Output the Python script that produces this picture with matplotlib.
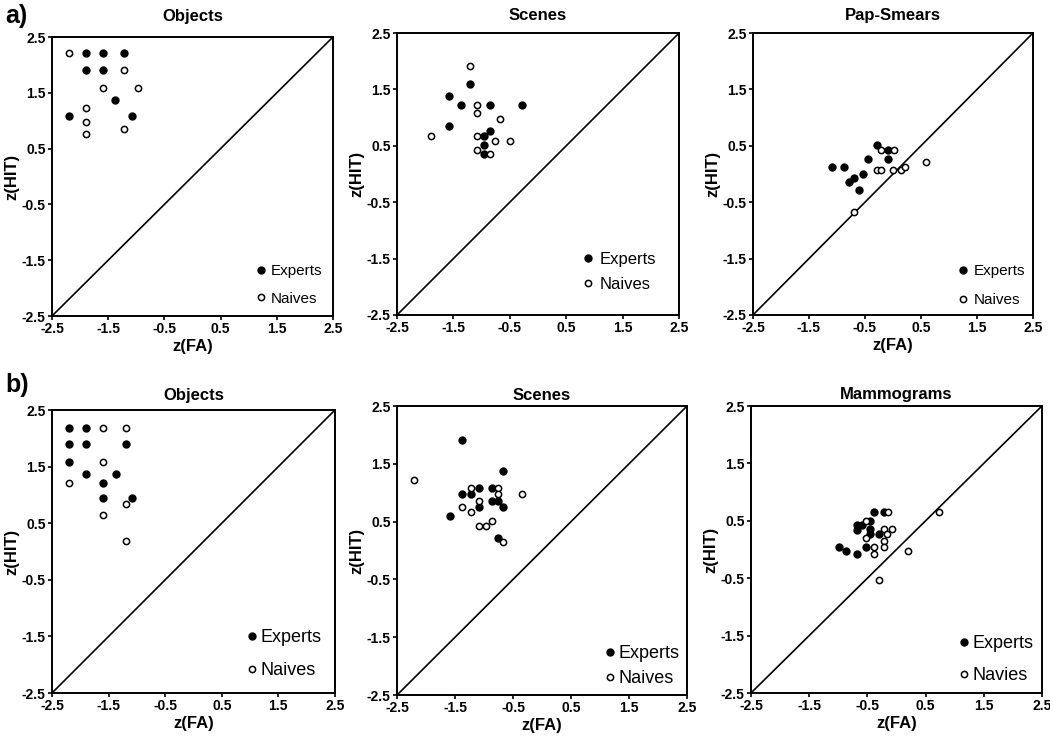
import matplotlib
matplotlib.use('Agg')
import matplotlib.pyplot as plt

plt.rcParams['font.family'] = ['Liberation Sans', 'DejaVu Sans']

# --- data: (zFA, zHIT) per observer ---
a_obj_exp_x = [-1.9, -1.6, -1.22, -1.9, -1.6, -1.37, -2.2, -1.08]
a_obj_exp_y = [2.22, 2.22, 2.22, 1.91, 1.91, 1.38, 1.09, 1.09]
a_obj_nai_x = [-2.2, -1.22, -1.6, -0.97, -1.9, -1.9, -1.9, -1.22]
a_obj_nai_y = [2.22, 1.91, 1.59, 1.59, 1.23, 0.97, 0.76, 0.85]

a_scn_exp_x = [-1.21, -1.58, -1.37, -0.86, -0.28, -1.58, -0.86, -0.96, -0.96, -0.96]
a_scn_exp_y = [1.60, 1.38, 1.22, 1.22, 1.22, 0.86, 0.76, 0.67, 0.51, 0.36]
a_scn_nai_x = [-1.21, -1.08, -1.08, -0.67, -1.9, -1.08, -0.76, -0.5, -1.08, -0.86]
a_scn_nai_y = [1.92, 1.22, 1.09, 0.97, 0.67, 0.67, 0.59, 0.59, 0.43, 0.36]

a_pap_exp_x = [-0.29, -0.08, -0.08, -0.44, -1.09, -0.87, -0.53, -0.69, -0.78, -0.6]
a_pap_exp_y = [0.51, 0.43, 0.27, 0.27, 0.13, 0.13, 0.0, -0.07, -0.15, -0.29]
a_pap_nai_x = [-0.21, 0.01, -0.29, -0.21, 0.0, 0.14, 0.22, 0.59, -0.69]
a_pap_nai_y = [0.43, 0.43, 0.07, 0.07, 0.07, 0.07, 0.13, 0.21, -0.67]

b_obj_exp_x = [-2.2, -1.9, -2.2, -1.9, -1.2, -2.2, -1.9, -1.37, -1.59, -1.59, -1.08]
b_obj_exp_y = [2.19, 2.19, 1.9, 1.9, 1.9, 1.58, 1.37, 1.37, 1.21, 0.95, 0.95]
b_obj_nai_x = [-1.59, -1.2, -1.59, -2.2, -1.2, -1.59, -1.2]
b_obj_nai_y = [2.19, 2.19, 1.58, 1.21, 0.84, 0.65, 0.19]

b_scn_exp_x = [-1.38, -0.67, -1.08, -0.86, -1.38, -1.22, -0.86, -0.76, -1.08, -0.67, -1.59, -0.76]
b_scn_exp_y = [1.91, 1.38, 1.09, 1.09, 0.97, 0.97, 0.86, 0.86, 0.76, 0.76, 0.59, 0.21]
b_scn_nai_x = [-2.2, -1.22, -0.76, -0.76, -0.35, -1.08, -1.38, -1.22, -0.86, -1.08, -0.97, -0.67]
b_scn_nai_y = [1.22, 1.09, 1.09, 0.97, 0.97, 0.86, 0.76, 0.67, 0.51, 0.43, 0.43, 0.14]

b_mam_exp_x = [-0.38, -0.22, -0.68, -0.6, -0.45, -0.68, -0.45, -0.45, -0.3, -0.52, -0.98, -0.87, -0.68]
b_mam_exp_y = [0.66, 0.66, 0.43, 0.43, 0.5, 0.34, 0.35, 0.27, 0.27, 0.05, 0.05, -0.02, -0.08]
b_mam_nai_x = [-0.15, -0.52, -0.22, -0.08, -0.16, -0.52, -0.22, -0.38, -0.22, -0.38, 0.2, 0.74, -0.3]
b_mam_nai_y = [0.66, 0.5, 0.35, 0.35, 0.27, 0.2, 0.14, 0.05, 0.05, -0.08, -0.02, 0.66, -0.53]

ticks = [-2.5, -1.5, -0.5, 0.5, 1.5, 2.5]
tick_labels = ['-2.5', '-1.5', '-0.5', '0.5', '1.5', '2.5']

panels = [
    # rect, title, data, naive label, show xlabel, title pad, legend settings
    dict(rect=[0.0495, 0.5741, 0.2676, 0.376], title='Objects',
         data=(a_obj_exp_x, a_obj_exp_y, a_obj_nai_x, a_obj_nai_y),
         nai='Naives', xl=True, tpad=11.5, fs=11, ls=0.9, bap=0.27, htp=0.35),
    dict(rect=[0.3781, 0.5755, 0.2686, 0.380], title='Scenes',
         data=(a_scn_exp_x, a_scn_exp_y, a_scn_nai_x, a_scn_nai_y),
         nai='Naives', xl=False, tpad=9.4, fs=12, ls=0.56, bap=1.0, htp=0.35),
    dict(rect=[0.7171, 0.5755, 0.2667, 0.380], title='Pap-Smears',
         data=(a_pap_exp_x, a_pap_exp_y, a_pap_nai_x, a_pap_nai_y),
         nai='Naives', xl=True, tpad=9.2, fs=11, ls=0.96, bap=0.13, htp=0.35),
    dict(rect=[0.0495, 0.0660, 0.2695, 0.3814], title='Objects',
         data=(b_obj_exp_x, b_obj_exp_y, b_obj_nai_x, b_obj_nai_y),
         nai='Naives', xl=True, tpad=7, fs=13, ls=0.89, bap=0.36, htp=0.15),
    dict(rect=[0.3781, 0.0633, 0.2762, 0.3895], title='Scenes',
         data=(b_scn_exp_x, b_scn_exp_y, b_scn_nai_x, b_scn_nai_y),
         nai='Naives', xl=True, tpad=4.2, fs=13, ls=0.45, bap=0.03, htp=0.15),
    dict(rect=[0.7152, 0.0660, 0.2771, 0.3868], title='Mammograms',
         data=(b_mam_exp_x, b_mam_exp_y, b_mam_nai_x, b_mam_nai_y),
         nai='Navies', xl=True, tpad=5, fs=13, ls=0.83, bap=0.08, htp=0.15),
]

fig = plt.figure(figsize=(10.5, 7.42), dpi=100)

for p in panels:
    ex, ey, nx, ny = p['data']
    ax = fig.add_axes(p['rect'])
    ax.plot([-2.5, 2.5], [-2.5, 2.5], color='black', lw=1.2, zorder=1)
    ax.plot(ex, ey, 'o', ms=5, color='black', mec='black', ls='none',
            label='Experts', zorder=3)
    ax.plot(nx, ny, 'o', ms=4.5, mfc='white', mec='black', mew=1.1, ls='none',
            label=p['nai'], zorder=3)
    ax.set_xlim(-2.5, 2.5)
    ax.set_ylim(-2.5, 2.5)
    ax.set_xticks(ticks)
    ax.set_yticks(ticks)
    ax.set_xticklabels(tick_labels, fontsize=10, fontweight='bold')
    ax.set_yticklabels(tick_labels, fontsize=10, fontweight='bold')
    ax.tick_params(direction='out', length=3, width=1.2, pad=1.5)
    for sp in ax.spines.values():
        sp.set_linewidth(1.4)
    ax.set_title(p['title'], fontsize=12, fontweight='bold', pad=p['tpad'])
    ax.set_ylabel('z(HIT)', fontsize=12, fontweight='bold', labelpad=2)
    if p['xl']:
        ax.set_xlabel('z(FA)', fontsize=12, fontweight='bold', labelpad=2)
    ax.legend(loc='lower right', frameon=False, fontsize=p['fs'],
              handlelength=0.6, handletextpad=p['htp'], labelspacing=p['ls'],
              borderaxespad=p['bap'])

fig.text(0.005, 0.995, 'a)', fontsize=18, fontweight='bold', va='top')
fig.text(0.005, 0.497, 'b)', fontsize=18, fontweight='bold', va='top')

fig.savefig('out.png', dpi=100)
